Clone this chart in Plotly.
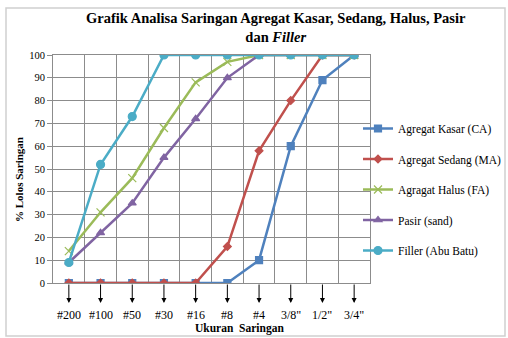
import plotly.graph_objects as go

sizes = ['#200', '#100', '#50', '#30', '#16', '#8', '#4', '3/8"', '1/2"', '3/4"']
kasar = [0, 0, 0, 0, 0, 0, 10, 60, 89, 100]
sedang = [0, 0, 0, 0, 0, 16, 58, 80, 100, 100]
halus = [14, 31, 46, 68, 88, 97, 100, 100, 100, 100]
pasir = [9, 22, 35, 55, 72, 90, 100, 100, 100, 100]
filler = [9, 52, 73, 100, 100, 100, 100, 100, 100, 100]

names = ['Agregat Kasar (CA)', 'Agregat Sedang (MA)', 'Agragat Halus (FA)',
         'Pasir (sand)', 'Filler (Abu Batu)']
series = [kasar, sedang, halus, pasir, filler]
colors = ['#4F81BD', '#C0504D', '#9BBB59', '#8064A2', '#4BACC6']
symbols = ['square', 'diamond', 'x-thin-open', 'triangle-up', 'circle']
msizes = [7, 6, 8, 7, 8]

FONT = 'Liberation Serif'
xi = list(range(len(sizes)))

fig = go.Figure()
for n, s, c, sym, ms in zip(names, series, colors, symbols, msizes):
    fig.add_trace(go.Scatter(
        x=xi, y=s, name=n, mode='lines+markers', legendgroup=n,
        line=dict(color=c, width=2.5),
        marker=dict(symbol=sym, size=ms, color=c, line=dict(color=c, width=1.2)),
    ))

L, R, T, B = 53, 138, 55, 55
W, H = 508, 338
pw, ph = W - L - R, H - T - B

def py(pix):
    return (H - B - pix) / ph

def px(pix):
    return (pix - L) / pw

ann = []
for i, lab in enumerate(sizes):
    ann.append(dict(x=i, y=py(303), xref='x', yref='paper', text='', showarrow=True,
                    ax=0, ay=-20, axref='pixel', ayref='pixel', arrowhead=2,
                    arrowsize=1, arrowwidth=1, arrowcolor='black'))
    ann.append(dict(x=i, y=py(315), xref='x', yref='paper', text=lab, showarrow=False,
                    yanchor='middle', font=dict(family=FONT, size=12, color='black')))
ann.append(dict(x=px(239), y=py(328), xref='paper', yref='paper', text='<b>Ukuran  Saringan</b>',
                showarrow=False, yanchor='middle', font=dict(family=FONT, size=11.5, color='black')))
ann.append(dict(x=px(19), y=py(180), xref='paper', yref='paper', text='<b>% Lolos Saringan</b>',
                showarrow=False, textangle=-90, xanchor='center', yanchor='middle',
                font=dict(family=FONT, size=11, color='black')))
ann.append(dict(x=px(276), y=py(28), xref='paper', yref='paper',
                text='<b>Grafik Analisa Saringan Agregat Kasar, Sedang, Halus, Pasir<br>dan <i>Filler</i></b>',
                showarrow=False, xanchor='center', yanchor='middle',
                font=dict(family=FONT, size=14.5, color='black')))

fig.update_layout(
    width=W, height=H,
    font=dict(family=FONT),
    margin=dict(l=L, r=R, t=T, b=B, autoexpand=False),
    paper_bgcolor='white', plot_bgcolor='white',
    xaxis=dict(range=[-0.5, 9.5], tick0=-0.5, dtick=1, showticklabels=False, ticks='',
               showgrid=True, gridcolor='#8c8c8c', gridwidth=1, zeroline=False,
               showline=True, linecolor='#8c8c8c', mirror=True),
    yaxis=dict(range=[0, 100], dtick=10, showgrid=True, gridcolor='#8c8c8c', gridwidth=1,
               zeroline=False, showline=True, linecolor='#8c8c8c', mirror=True,
               tickfont=dict(family=FONT, size=10.5, color='black'),
               ticks='outside', ticklen=5, tickcolor='#8c8c8c', tickwidth=1),
    legend=dict(x=px(358), xanchor='left', y=py(114), yanchor='top',
                font=dict(family=FONT, size=11.5, color='black'),
                traceorder='grouped', tracegroupgap=11.5, itemwidth=30, bgcolor='rgba(0,0,0,0)'),
    annotations=ann,
    shapes=[dict(type='rect', xref='paper', yref='paper', x0=px(6), x1=px(505), y0=py(336), y1=py(8),
                 line=dict(color='#d0d0d0', width=1.5), layer='below')],
)

fig.write_html('out.html', post_script="document.body.style.margin='0px';",
               config={'displayModeBar': False})
